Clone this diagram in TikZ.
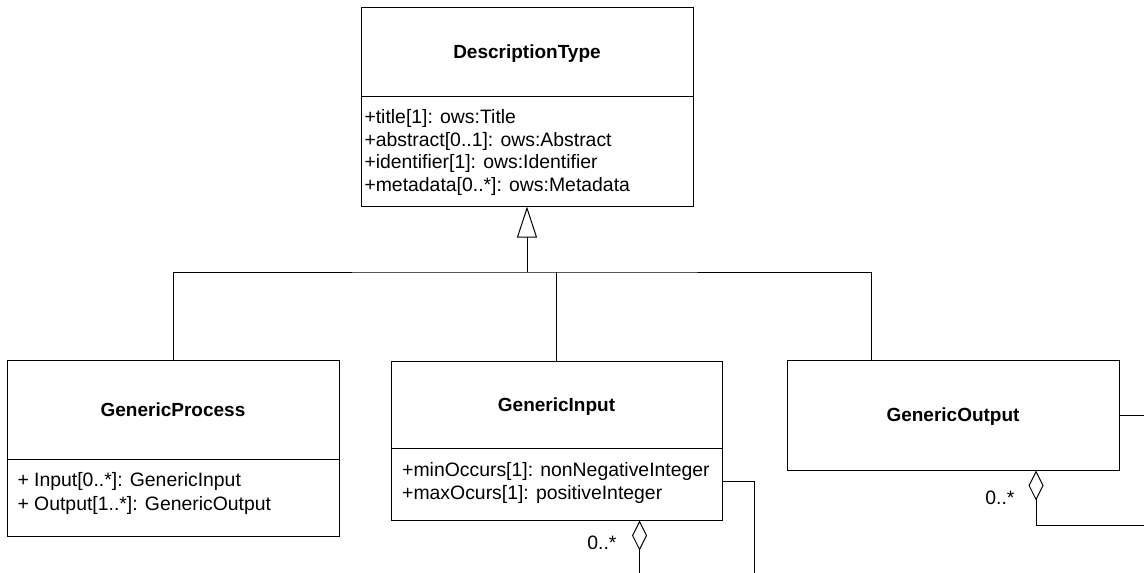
\documentclass[tikz,border=0pt]{standalone}
\usepackage{fontspec}
\setmainfont{Liberation Sans}
\usetikzlibrary{arrows.meta}
\tikzset{
  txt/.style={font=\fontsize{19.4}{22.5}\selectfont},
  comptitle/.style={draw, rectangle, inner sep=0pt, minimum width=332pt,
    text height=13.7pt, text depth=0pt, font=\fontsize{19}{22.5}\selectfont\bfseries},
  compattr/.style={draw, rectangle, inner sep=0pt, minimum width=332pt},
  attrtext/.style={txt, inner sep=0pt, align=left, anchor=base west},
  mult/.style={txt, inner sep=0pt, anchor=base east},
  genarrow/.style={-{Triangle[open,length=31pt,width=20pt]}},
  aggstart/.style={{Diamond[open,length=30pt,width=15pt]}-},
}
\begin{document}
\begin{tikzpicture}[x=1pt,y=-1pt,line width=1pt]
\useasboundingbox (0,0) rectangle (1144,573);

% DescriptionType
\node[comptitle, minimum height=89pt] (dt) at (527,51.5) {DescriptionType};
\node[compattr, minimum height=110pt] (dta) at (527,151) {};
\node[attrtext] (dtt) at (364,191) {+title[1]: ows:Title\\ +abstract[0..1]: ows:Abstract\\ +identifier[1]: ows:Identifier\\ +metadata[0..*]: ows:Metadata};

% GenericProcess
\node[comptitle, minimum height=99pt] (gp) at (173,409.5) {GenericProcess};
\node[compattr, minimum height=77pt] (gpa) at (173,497.5) {};
\node[attrtext] (gpt) at (17,510.7) {+ Input[0..*]: GenericInput\\[1.5pt] + Output[1..*]: GenericOutput};

% GenericInput
\node[comptitle, minimum width=331pt, minimum height=87pt] (gi) at (556.5,404.5) {GenericInput};
\node[compattr, minimum width=331pt, minimum height=72pt] (gia) at (556.5,484) {};
\node[attrtext] (git) at (401.7,499.3) {+minOccurs[1]: nonNegativeInteger\\[0.8pt] +maxOcurs[1]: positiveInteger};

% GenericOutput
\node[comptitle, minimum height=110pt] (go) at (953,415) {GenericOutput};

% generalization
\coordinate (j) at (527,272);
\draw[genarrow] (j) -- (dta.south);
\draw (gp.north) |- (j) -| ([xshift=-82pt]go.north);
\draw (gi.north) -- (gi.north |- j);

% GenericInput associations
\coordinate (gibot) at (639.5,573);
\coordinate (giright) at (754,573);
\draw[aggstart] ([xshift=83pt]gia.south) -- (gibot);
\draw ([yshift=3pt]gia.east) -| (giright);
\node[mult] (gim) at (617,549) {0..*};

% GenericOutput associations
\coordinate (goedge) at (1144,415);
\coordinate (gobr) at (1144,525);
\draw (go.east) -- (goedge);
\draw[aggstart] ([xshift=83pt]go.south) |- (gobr);
\node[mult] (gom) at (1015,504) {0..*};
\end{tikzpicture}
\end{document}
